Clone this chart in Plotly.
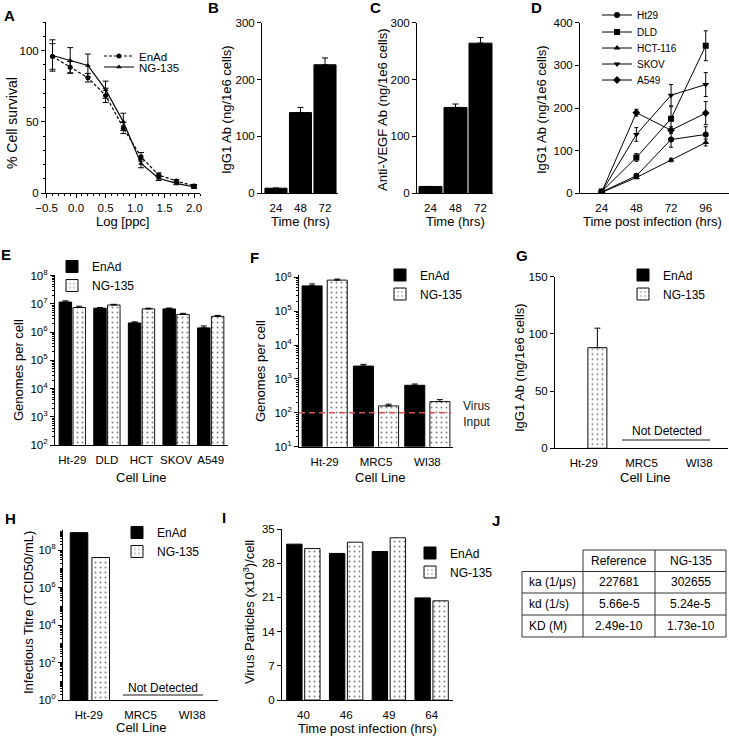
import plotly.graph_objects as go

W, H = 729, 737
FONT = "Liberation Sans, Arial, Helvetica, sans-serif"

# ---------------- data ----------------
a_log_ppc = [-0.4, -0.1, 0.2, 0.5, 0.8, 1.1, 1.4, 1.7, 2.0]
a_enad = [95.8, 88.3, 80.9, 68.5, 45.7, 25.4, 12.6, 8.4, 5.0]
a_enad_err = [9, 4, 3, 5, 4, 3, 1.5, 1, 1]
a_ng135 = [96.5, 93.0, 89.5, 72.5, 50.0, 20.7, 10.3, 6.8, 4.2]
a_ng135_err = [11, 9, 8, 6, 6, 3, 1.5, 1, 1]

b_time = ["24", "48", "72"]
b_igg1 = [9, 142, 226]
b_igg1_err = [0, 9, 12]

c_time = ["24", "48", "72"]
c_vegf = [12, 151, 264]
c_vegf_err = [0, 6, 10]

d_time = [24, 48, 72, 96]
d_names = ["Ht29", "DLD", "HCT-116", "SKOV", "A549"]
d_ht29 = [3, 41, 126, 138]
d_ht29_err = [1, 5, 18, 18]
d_dld = [4, 84, 175, 346]
d_dld_err = [1, 9, 28, 35]
d_hct116 = [2, 37, 78, 119]
d_hct116_err = [1, 3, 4, 8]
d_skov = [3, 138, 230, 255]
d_skov_err = [1, 16, 25, 28]
d_a549 = [3, 189, 148, 188]
d_a549_err = [1, 8, 8, 27]

e_cells = ["Ht-29", "DLD", "HCT", "SKOV", "A549"]
e_enad = [1.15e7, 7.0e6, 2.1e6, 6.6e6, 1.4e6]
e_enad_err = [1.2e6, 0.4e6, 0.2e6, 0.5e6, 0.25e6]
e_ng135 = [7.4e6, 9.1e6, 6.6e6, 4.2e6, 3.6e6]
e_ng135_err = [0.8e6, 0.5e6, 0.4e6, 0.4e6, 0.3e6]

f_cells = ["Ht-29", "MRC5", "WI38"]
f_enad = [5.6e5, 2.4e3, 650]
f_enad_err = [0.8e5, 0.3e3, 60]
f_ng135 = [8.3e5, 160, 215]
f_ng135_err = [0.6e5, 20, 30]
f_virus_input = 100

g_cells = ["Ht-29", "MRC5", "WI38"]
g_enad = [None, None, None]
g_ng135 = [88, None, None]
g_ng135_err = [17, 0, 0]

h_cells = ["Ht-29", "MRC5", "WI38"]
h_enad = [8.5e8, None, None]
h_ng135 = [4.0e7, None, None]

i_time = ["40", "46", "49", "64"]
i_enad = [31.9, 30.0, 30.4, 20.9]
i_ng135 = [31.0, 32.3, 33.2, 20.3]

j_header = ["Reference", "NG-135"]
j_params = ["ka (1/μs)", "kd (1/s)", "KD (M)"]
j_reference = ["227681", "5.66e-5", "2.49e-10"]
j_ng135 = ["302655", "5.24e-5", "1.73e-10"]

# ---------------- helpers ----------------
def dx(a, b):
    return [a / W, b / W]

def dy(top, bottom):
    return [1 - bottom / H, 1 - top / H]

def ann(text, x, y, size=12, angle=0, bold=False, xanchor="center", yanchor="middle", color="black"):
    if bold:
        text = "<b>" + text + "</b>"
    return dict(text=text, x=x / W, y=1 - y / H, xref="paper", yref="paper", showarrow=False,
                font=dict(family=FONT, size=size, color=color), textangle=angle,
                xanchor=xanchor, yanchor=yanchor)

def leg(x, y, size):
    return dict(x=x / W, y=1 - y / H, xanchor="left", yanchor="middle", bgcolor="rgba(0,0,0,0)",
                borderwidth=0, font=dict(family=FONT, size=size, color="black"), itemwidth=30,
                tracegroupgap=0, traceorder="normal")

TICKFONT = dict(family=FONT, size=11.5, color="black")
AX = dict(showline=True, linecolor="black", linewidth=1, ticks="outside", ticklen=4,
          tickcolor="black", showgrid=False, zeroline=False, tickfont=TICKFONT)
CAT = dict(AX, type="category", tickcolor="rgba(0,0,0,0)")

def up_err(arr):
    return dict(type="data", array=arr, arrayminus=[0] * len(arr), symmetric=False,
                color="black", thickness=1, width=3)

SOLID = dict(color="black", line=dict(color="black", width=1))
DOTTED = dict(color="white", line=dict(color="#111", width=1),
              pattern=dict(shape=".", fgcolor="black", bgcolor="white", size=5, solidity=0.12))

def sup_ticks(lo, hi, step):
    vals = [10 ** n for n in range(lo, hi + 1, step)]
    txt = ["10<sup>%d</sup>" % n for n in range(lo, hi + 1, step)]
    return vals, txt

def minor_vals(lo, hi):
    return [k * 10 ** n for n in range(lo, hi + 1) for k in range(1, 10)]

fig = go.Figure()

# ---------------- A ----------------
fig.add_trace(go.Scatter(x=a_log_ppc, y=a_enad, name="EnAd", mode="lines+markers",
                         line=dict(color="black", width=1.2, dash="3px,2px"),
                         marker=dict(symbol="circle", size=5, color="black"),
                         error_y=dict(type="data", array=a_enad_err, color="black", thickness=1, width=3),
                         xaxis="x", yaxis="y", legend="legend"))
fig.add_trace(go.Scatter(x=a_log_ppc, y=a_ng135, name="NG-135", mode="lines+markers",
                         line=dict(color="black", width=1.2),
                         marker=dict(symbol="triangle-up", size=5, color="black"),
                         error_y=dict(type="data", array=a_ng135_err, color="black", thickness=1, width=3),
                         xaxis="x", yaxis="y", legend="legend2"))

# ---------------- B ----------------
fig.add_trace(go.Bar(x=b_time, y=b_igg1, marker=SOLID, width=0.9, error_y=up_err(b_igg1_err),
                     showlegend=False, xaxis="x2", yaxis="y2"))
# ---------------- C ----------------
fig.add_trace(go.Bar(x=c_time, y=c_vegf, marker=SOLID, width=0.92, error_y=up_err(c_vegf_err),
                     showlegend=False, xaxis="x3", yaxis="y3"))

# ---------------- D ----------------
d_data = [d_ht29, d_dld, d_hct116, d_skov, d_a549]
d_errs = [d_ht29_err, d_dld_err, d_hct116_err, d_skov_err, d_a549_err]
d_symbols = ["circle", "square", "triangle-up", "triangle-down", "diamond"]
for k, (nm, ys, es, sym) in enumerate(zip(d_names, d_data, d_errs, d_symbols)):
    fig.add_trace(go.Scatter(x=d_time, y=ys, name=nm, mode="lines+markers",
                             line=dict(color="black", width=1),
                             marker=dict(symbol=sym, size=6, color="black"),
                             error_y=dict(type="data", array=es, color="black", thickness=1, width=2),
                             xaxis="x4", yaxis="y4", legend="legend%d" % (k + 3)))

# ---------------- E ----------------
fig.add_trace(go.Bar(x=e_cells, y=e_enad, name="EnAd", marker=SOLID, width=0.36, offset=-0.38,
                     error_y=up_err(e_enad_err), xaxis="x5", yaxis="y5", legend="legend8"))
fig.add_trace(go.Bar(x=e_cells, y=e_ng135, name="NG-135", marker=DOTTED, width=0.36, offset=0.02,
                     error_y=up_err(e_ng135_err), xaxis="x5", yaxis="y5", legend="legend8"))

# ---------------- F ----------------
fig.add_trace(go.Bar(x=f_cells, y=f_enad, name="EnAd", marker=SOLID, width=0.39, offset=-0.44,
                     error_y=up_err(f_enad_err), xaxis="x6", yaxis="y6", legend="legend9"))
fig.add_trace(go.Bar(x=f_cells, y=f_ng135, name="NG-135", marker=DOTTED, width=0.39, offset=0.05,
                     error_y=up_err(f_ng135_err), xaxis="x6", yaxis="y6", legend="legend9"))

# ---------------- G ----------------
fig.add_trace(go.Bar(x=g_cells, y=g_enad, name="EnAd", marker=SOLID, width=0.33, offset=-0.4,
                     xaxis="x7", yaxis="y7", legend="legend10"))
fig.add_trace(go.Bar(x=g_cells, y=g_ng135, name="NG-135", marker=DOTTED, width=0.33, offset=0.07,
                     error_y=up_err(g_ng135_err), xaxis="x7", yaxis="y7", legend="legend10"))

# ---------------- H ----------------
fig.add_trace(go.Bar(x=h_cells, y=h_enad, name="EnAd", marker=SOLID, width=0.34, offset=-0.36,
                     xaxis="x8", yaxis="y8", legend="legend11"))
fig.add_trace(go.Bar(x=h_cells, y=h_ng135, name="NG-135", marker=DOTTED, width=0.34, offset=0.06,
                     xaxis="x8", yaxis="y8", legend="legend11"))

# ---------------- I ----------------
fig.add_trace(go.Bar(x=i_time, y=i_enad, name="EnAd", marker=SOLID, width=0.36, offset=-0.39,
                     xaxis="x9", yaxis="y9", legend="legend12"))
fig.add_trace(go.Bar(x=i_time, y=i_ng135, name="NG-135", marker=DOTTED, width=0.36, offset=0.03,
                     xaxis="x9", yaxis="y9", legend="legend12"))

# ---------------- axes ----------------
e_tv, e_tt = sup_ticks(2, 8, 1)
f_tv, f_tt = sup_ticks(1, 6, 1)
h_tv, h_tt = sup_ticks(0, 8, 2)
MINOR = dict(ticks="outside", ticklen=2, tickcolor="black", showgrid=False)

layout = dict(
    width=W, height=H, margin=dict(l=0, r=0, t=0, b=0, autoexpand=False),
    paper_bgcolor="white", plot_bgcolor="white", barmode="overlay", showlegend=True,
    font=dict(family=FONT, size=11, color="black"),
    # A
    xaxis=dict(AX, domain=dx(46, 200), anchor="y", range=[-0.51, 2.1], tickvals=[-0.5, 0, 0.5, 1, 1.5, 2],
               tickformat=".1f", minor=dict(MINOR, dtick=0.1)),
    yaxis=dict(AX, domain=dy(22, 193), anchor="x", range=[0, 120], tickvals=[0, 50, 100],
               minor=dict(MINOR, dtick=10)),
    # B
    xaxis2=dict(CAT, domain=dx(262, 338), anchor="y2", range=[-0.57, 2.53]),
    yaxis2=dict(AX, domain=dy(22.7, 193.3), anchor="x2", range=[0, 300], tickvals=[0, 100, 200, 300]),
    # C
    xaxis3=dict(CAT, domain=dx(417, 493), anchor="y3", range=[-0.54, 2.5]),
    yaxis3=dict(AX, domain=dy(22.7, 193.3), anchor="x3", range=[0, 300], tickvals=[0, 100, 200, 300]),
    # D
    xaxis4=dict(AX, domain=dx(580, 729), anchor="y4", range=[9, 112.1], tickvals=d_time,
                tickcolor="rgba(0,0,0,0)"),
    yaxis4=dict(AX, domain=dy(22.7, 193.3), anchor="x4", range=[0, 400], tickvals=[0, 100, 200, 300, 400]),
    # E
    xaxis5=dict(CAT, domain=dx(55, 228), anchor="y5", range=[-0.5, 4.5]),
    yaxis5=dict(AX, domain=dy(275, 445), anchor="x5", type="log", range=[2, 8.02],
                tickvals=e_tv, ticktext=e_tt, minor=dict(MINOR, tickvals=minor_vals(2, 7))),
    # F
    xaxis6=dict(CAT, domain=dx(299, 453), anchor="y6", range=[-0.5, 2.5]),
    yaxis6=dict(AX, domain=dy(275, 446.7), anchor="x6", type="log", range=[1, 6.07],
                tickvals=f_tv, ticktext=f_tt, minor=dict(MINOR, tickvals=minor_vals(1, 6))),
    # G
    xaxis7=dict(CAT, domain=dx(555, 728), anchor="y7", range=[-0.5, 2.5]),
    yaxis7=dict(AX, domain=dy(276.7, 448.3), anchor="x7", range=[0, 150], tickvals=[0, 50, 100, 150]),
    # H
    xaxis8=dict(CAT, domain=dx(63, 218), anchor="y8", range=[-0.5, 2.5]),
    yaxis8=dict(AX, domain=dy(530, 700), anchor="x8", type="log", range=[0, 9.07],
                tickvals=h_tv, ticktext=h_tt, minor=dict(MINOR, tickvals=minor_vals(0, 9))),
    # I
    xaxis9=dict(CAT, domain=dx(282, 453), anchor="y9", range=[-0.5, 3.5]),
    yaxis9=dict(AX, domain=dy(529, 700), anchor="x9", range=[0, 35], tickvals=[0, 7, 14, 21, 28, 35]),
    # legends
    legend=leg(99, 56, 11.5),
    legend2=leg(99, 67, 11.5),
    legend3=leg(597, 15, 10),
    legend4=leg(597, 32, 10),
    legend5=leg(597, 48, 10),
    legend6=leg(597, 64, 10),
    legend7=leg(597, 80, 10),
    legend8=leg(52, 276, 12),
    legend9=leg(380, 284.5, 12),
    legend10=leg(623, 284.5, 12),
    legend11=leg(117, 542, 12),
    legend12=leg(410, 562.5, 12),
)
fig.update_layout(**layout)

# ---------------- annotations ----------------
anns = []
for letter, x, y in [("A", 9, 15), ("B", 213, 8), ("C", 375, 8), ("D", 536, 8), ("E", 6, 255),
                     ("F", 254, 257), ("G", 522, 256), ("H", 10, 518), ("I", 224, 517), ("J", 496, 520)]:
    anns.append(ann(letter, x, y, size=15, bold=True))
anns += [
    ann("% Cell survival", 12, 123, size=14, angle=-90),
    ann("Log [ppc]", 123, 221, size=13),
    ann("IgG1 Ab (ng/1e6 cells)", 227, 110, size=13, angle=-90),
    ann("Time (hrs)", 300, 221, size=13),
    ann("Anti-VEGF Ab (ng/1e6 cells)", 383, 110, size=13, angle=-90),
    ann("Time (hrs)", 455, 221, size=13),
    ann("IgG1 Ab (ng/1e6 cells)", 542, 110, size=13, angle=-90),
    ann("Time post infection (hrs)", 652, 221, size=13),
    ann("Genomes per cell", 18, 370, size=13, angle=-90),
    ann("Cell Line", 141, 477, size=13),
    ann("Genomes per cell", 260, 371, size=13, angle=-90),
    ann("Cell Line", 380, 477, size=13),
    ann("IgG1 Ab (ng/1e6 cells)", 520, 368, size=13, angle=-90),
    ann("Cell Line", 645, 477, size=13),
    ann("Infectious Titre (TCID50/mL)", 28, 613, size=13, angle=-90),
    ann("Cell Line", 141, 727, size=13),
    ann("Virus Particles (x10<sup>3</sup>)/cell", 249, 612, size=13, angle=-90),
    ann("Time post infection (hrs)", 368, 728, size=13),
    ann("Virus<br>Input", 477, 414, size=12, color="#222"),
    ann("Not Detected", 667, 431, size=12),
    ann("Not Detected", 163, 688, size=12),
]

# table J
cols = [522, 583, 655, 726]
rows = [550, 571.5, 593, 615, 637]
shapes = []
def line(x0, y0, x1, y1, color="#333", width=1, dash="solid"):
    return dict(type="line", xref="paper", yref="paper", x0=x0 / W, x1=x1 / W, y0=1 - y0 / H, y1=1 - y1 / H,
                line=dict(color=color, width=width, dash=dash))
shapes.append(line(cols[1], rows[0], cols[3], rows[0]))
for r in rows[1:]:
    shapes.append(line(cols[0], r, cols[3], r))
shapes.append(line(cols[0], rows[1], cols[0], rows[4]))
for c in cols[1:]:
    shapes.append(line(c, rows[0], c, rows[4]))
hy = (rows[0] + rows[1]) / 2
anns.append(ann(j_header[0], (cols[1] + cols[2]) / 2, hy, size=12))
anns.append(ann(j_header[1], (cols[2] + cols[3]) / 2, hy, size=12))
for k in range(3):
    ry = (rows[k + 1] + rows[k + 2]) / 2
    anns.append(ann(j_params[k], cols[0] + 5, ry, size=12, xanchor="left"))
    anns.append(ann(j_reference[k], (cols[1] + cols[2]) / 2, ry, size=12))
    anns.append(ann(j_ng135[k], (cols[2] + cols[3]) / 2, ry, size=12))

shapes.append(dict(type="line", xref="x6 domain", yref="y6", x0=0, x1=0.99, y0=f_virus_input, y1=f_virus_input,
                   line=dict(color="#d9534f", width=1.5, dash="6px,4px")))
shapes.append(line(622, 440, 710, 440, color="#666", width=1.5))
shapes.append(line(123, 695, 203, 695, color="#666", width=1.5))

fig.update_layout(annotations=anns, shapes=shapes)
fig.write_html("out.html", config={"displayModeBar": False},
               post_script="document.body.style.margin='0';document.body.style.padding='0';"
                           "document.body.style.overflow='hidden';")
